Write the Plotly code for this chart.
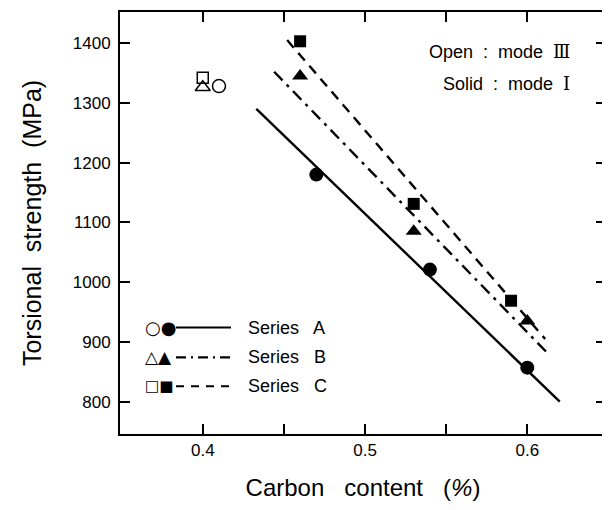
import plotly.graph_objects as go

# ---- data ----
open_x = [0.41, 0.40, 0.40]
open_y = [1328, 1326, 1342]
open_symbols = ["circle-open", "triangle-up-open", "square-open"]

a_x = [0.47, 0.54, 0.60]
a_y = [1180, 1021, 857]
b_x = [0.46, 0.53, 0.60]
b_y = [1345, 1085, 935]
c_x = [0.46, 0.53, 0.59]
c_y = [1403, 1131, 969]

# fitted lines (end points)
a_line_x = [0.433, 0.620]
a_line_y = [1290, 800]
b_line_x = [0.444, 0.614]
b_line_y = [1352, 877]
c_line_x = [0.452, 0.611]
c_line_y = [1405, 905]

x_ticks = [0.4, 0.45, 0.5, 0.55, 0.6]
x_ticktext = ["0.4", "", "0.5", "", "0.6"]
y_ticks = [800, 900, 1000, 1100, 1200, 1300, 1400]

series_names = ["Series   A", "Series   B", "Series   C"]
legend_symbols = ["○●", "△▲", "□■"]
legend_symbol_sizes = [18, 17, 15]
legend_dash = ["solid", "dashdot", "dash"]

FONT = "Liberation Sans, Arial, sans-serif"
DASHDOT = "12px,6px,3px,6px"
DASH = "10px,7px"

W, H = 602, 502          # page body adds 8px offset
OFF = 8
pl, pr, pt, pb = 112, 4, 2, 76
pw = W - pl - pr
ph = H - pt - pb


def px2paper_x(px):
    return (px - OFF - pl) / pw


def px2paper_y(py):
    return (H - pb - (py - OFF)) / ph


fig = go.Figure()

for lx, ly, d in [(a_line_x, a_line_y, "solid"), (b_line_x, b_line_y, DASHDOT), (c_line_x, c_line_y, DASH)]:
    fig.add_trace(go.Scatter(x=lx, y=ly, mode="lines",
                             line=dict(color="black", width=2.4, dash=d),
                             showlegend=False, hoverinfo="skip"))

fig.add_trace(go.Scatter(x=a_x, y=a_y, mode="markers",
                         marker=dict(symbol="circle", size=14, color="black"), showlegend=False))
fig.add_trace(go.Scatter(x=b_x, y=b_y, mode="markers",
                         marker=dict(symbol="triangle-up", size=14, color="black"), showlegend=False))
fig.add_trace(go.Scatter(x=c_x, y=c_y, mode="markers",
                         marker=dict(symbol="square", size=12, color="black"), showlegend=False))
for x, y, s in zip(open_x, open_y, open_symbols):
    fig.add_trace(go.Scatter(x=[x], y=[y], mode="markers",
                             marker=dict(symbol=s, size=13 if "square" not in s else 11, color="black",
                                         line=dict(width=1.5, color="black")),
                             showlegend=False))

# custom legend (symbols as text, line samples as shapes)
legend_rows_y = [327, 357, 386]  # screen pixel rows
for name, sym, ssz, dash, ry in zip(series_names, legend_symbols, legend_symbol_sizes, legend_dash, legend_rows_y):
    fig.add_annotation(x=px2paper_x(143), y=px2paper_y(ry), xref="paper", yref="paper",
                       text=sym, showarrow=False, xanchor="left", yanchor="middle",
                       font=dict(family="DejaVu Sans", size=ssz, color="black"))
    fig.add_shape(type="line", xref="paper", yref="paper",
                  x0=px2paper_x(176), x1=px2paper_x(231), y0=px2paper_y(ry), y1=px2paper_y(ry),
                  line=dict(color="black", width=2.2,
                            dash="solid" if dash == "solid" else ("10px,5px,2px,5px" if dash == "dashdot" else "8px,7px")))
    fig.add_annotation(x=px2paper_x(246), y=px2paper_y(ry), xref="paper", yref="paper",
                       text=name, showarrow=False, xanchor="left", yanchor="middle",
                       font=dict(family=FONT, size=18, color="black"))

fig.add_annotation(x=px2paper_x(572), y=px2paper_y(50), xref="paper", yref="paper",
                   text="Open  :  mode  <span style=\"font-family:'DejaVu Serif'\">Ⅲ</span>",
                   showarrow=False, xanchor="right", yanchor="middle",
                   font=dict(family=FONT, size=18, color="black"))
fig.add_annotation(x=px2paper_x(572), y=px2paper_y(82), xref="paper", yref="paper",
                   text="Solid  :  mode  <span style=\"font-family:'DejaVu Serif'\">Ⅰ</span>",
                   showarrow=False, xanchor="right", yanchor="middle",
                   font=dict(family=FONT, size=18, color="black"))

axis_common = dict(showgrid=False, zeroline=False, showline=True, linecolor="black", linewidth=2,
                   mirror="allticks", ticks="inside", ticklen=10, tickwidth=1.6, tickcolor="black",
                   tickfont=dict(family=FONT, size=17, color="black"))

fig.update_xaxes(range=[0.349, 0.6485], tickvals=x_ticks, ticktext=x_ticktext,
                 title=dict(text="Carbon   content   (<i>%</i>)", font=dict(family=FONT, size=24, color="black"), standoff=20),
                 **axis_common)
fig.update_yaxes(range=[746, 1452], tickvals=y_ticks,
                 title=dict(text="Torsional  strength  (MPa)", font=dict(family=FONT, size=25, color="black"), standoff=24),
                 ticklabelstandoff=4,
                 **axis_common)

fig.update_layout(width=W, height=H, margin=dict(l=pl, r=pr, t=pt, b=pb),
                  paper_bgcolor="white", plot_bgcolor="white", showlegend=False)

fig.write_html("out.html")
